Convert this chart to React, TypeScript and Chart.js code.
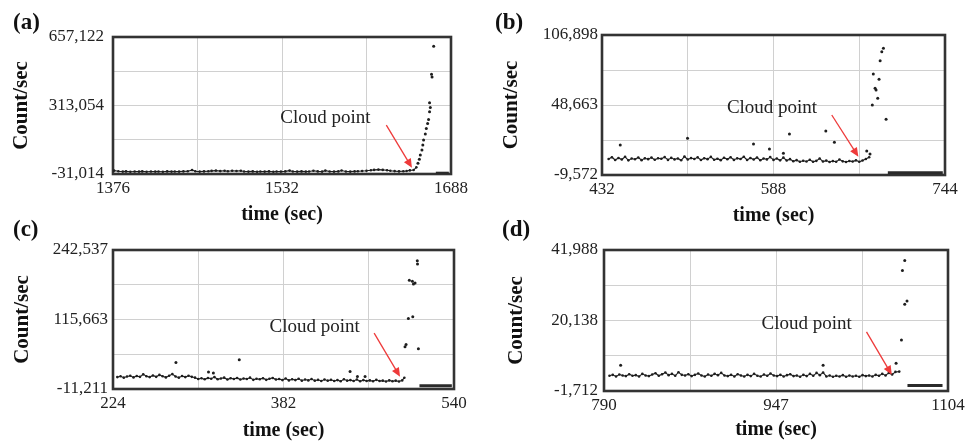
import React, { useEffect, useRef } from "react";
import { Chart, registerables } from "chart.js";

Chart.register(...registerables);

const W = 973;
const H = 444;

// ---------- Panel (a) ----------
const baseTimeA = [
  1377, 1381, 1385, 1388, 1392, 1396, 1400, 1403, 1407, 1411, 1415, 1418, 1422, 1426, 1430, 1433, 1437, 1441, 1445, 1449,
  1452, 1456, 1460, 1464, 1467, 1471, 1475, 1479, 1482, 1486, 1490, 1494, 1497, 1501, 1505, 1509, 1512, 1516, 1520, 1524,
  1527, 1531, 1535, 1539, 1542, 1546, 1550, 1554, 1557, 1561, 1565, 1569, 1572, 1576, 1580, 1584, 1587, 1591, 1595, 1599,
  1602, 1606, 1610, 1614, 1617, 1621, 1625, 1629, 1632, 1636, 1640, 1644, 1647, 1650, 1653.5, 1656,
];
const baseCountA = [
  -14000, -17500, -19000, -18000, -19500, -18500, -19000, -18000, -19500, -18500, -19000, -18500, -19500, -18000, -19000, -18500, -19000, -18000, -17000, -11500,
  -17500, -19000, -18000, -17000, -15500, -14000, -16500, -15000, -17500, -14500, -16000, -15000, -18500, -19000, -18000, -19500, -18500, -19000, -18000, -19500,
  -18500, -19000, -18000, -14000, -18500, -19000, -18000, -19000, -18500, -14500, -18000, -19000, -14000, -18500, -19000, -18000, -13500, -18500, -19000, -18000,
  -17500, -16000, -14500, -12500, -10500, -9000, -10500, -12500, -14500, -16500, -18000, -17500, -16000, -13000, -11000, 2500,
];
const spikeTimeA = [1657.5, 1658.8, 1659.7, 1661.2, 1662, 1662.7, 1664.3, 1665.2, 1666.4, 1667.3, 1668.2, 1668.9, 1668.2, 1670, 1670.5, 1672];
const spikeCountA = [22500, 42600, 64200, 89200, 114300, 139400, 169500, 198000, 223000, 243100, 281200, 303000, 326300, 470000, 456600, 610500];
const tailTimeA = [1674, 1686];
const tailCountA = [-27000, -27000];
const xTicksA = [1376, 1454, 1532, 1610, 1688];
const xLabelsA = ["1376", "", "1532", "", "1688"];
const yTicksA = [-31014, 141020, 313054, 485088, 657122];
const yLabelsA = ["-31,014", "", "313,054", "", "657,122"];

// ---------- Panel (b) ----------
const baseTimeB = [
  438, 441, 444, 447, 450, 453, 456, 459, 462, 465, 468, 471, 474, 477, 480, 483, 486, 489, 492, 495,
  498, 501, 504, 507, 510, 513, 516, 519, 522, 525, 528, 531, 534, 537, 540, 543, 546, 549, 552, 555,
  558, 561, 564, 567, 570, 573, 576, 579, 582, 585, 588, 591, 594, 597, 600, 603, 606, 609, 612, 615,
  618, 621, 624, 627, 630, 633, 636, 639, 642, 645, 648, 651, 654, 657, 660, 663, 666, 669, 672, 675,
];
const baseCountB = [
  3800, 5200, 2900, 4600, 3300, 5600, 2600, 4100, 3500, 5000, 2800, 4300, 3600, 4900, 3100, 4400, 3900, 5300, 3000, 4700,
  3400, 4200, 2700, 5800, 3300, 4500, 3800, 5100, 2900, 4400, 3600, 5500, 3100, 4000, 2800, 4800, 3500, 5200, 3000, 4300,
  3700, 5600, 2900, 4600, 3300, 5000, 2700, 4100, 3400, 5300, 3000, 4200, 2600, 4900, 2500, 3600, 1900, 2800, 1500, 2300,
  1700, 3100, 1400, 2200, 4200, 1600, 2400, 1300, 2000, 1500, 3300, 1800, 1200, 2100, 1600, 2600, 1400, 2500, 3800, 5200,
];
const spikeTimeB = [448.6, 509.8, 569.8, 584.3, 602.5, 635.6, 643.4, 597, 672.8, 675.8, 677.9, 678.8, 680.4, 681.3, 682.8, 684, 685, 686.5, 688, 690.4];
const spikeCountB = [15400, 21000, 16200, 12100, 24500, 27000, 17600, 8500, 10400, 7900, 48700, 74500, 62600, 61200, 54200, 70100, 85500, 93000, 95800, 36800];
const tailTimeB = [692, 742];
const tailCountB = [-7700, -7700];
const xTicksB = [432, 510, 588, 666, 744];
const xLabelsB = ["432", "", "588", "", "744"];
const yTicksB = [-9572, 19545.5, 48663, 77780.5, 106898];
const yLabelsB = ["-9,572", "", "48,663", "", "106,898"];

// ---------- Panel (c) ----------
const baseTimeC = [
  228, 231, 234, 237, 240, 243, 246, 249, 252, 255, 258, 261, 264, 267, 270, 273, 276, 279, 282, 285,
  288, 291, 294, 297, 300, 303, 306, 309, 312, 315, 318, 321, 324, 327, 330, 333, 336, 339, 342, 345,
  348, 351, 354, 357, 360, 363, 366, 369, 372, 375, 378, 381, 384, 387, 390, 393, 396, 399, 402, 405,
  408, 411, 414, 417, 420, 423, 426, 429, 432, 435, 438, 441, 444, 447, 450, 453, 456, 459, 462, 465,
  468, 471, 474, 477, 480, 483, 486, 489, 492, 494,
];
const baseCountC = [
  10500, 12000, 9500, 11500, 13000, 10000, 12500, 11000, 15500, 12000, 10500, 13500, 11000, 14500, 12000, 10000, 13000, 16000, 11500, 9500,
  12500, 10500, 13000, 11000, 9500, 7000, 8500, 6500, 9000, 7500, 10500, 6500, 8000, 9500, 6000, 8500, 7000, 9000, 6000, 8000,
  7000, 9500, 5500, 7500, 6500, 8500, 5500, 7500, 9000, 6000, 7000, 5000, 8000, 4500, 6500, 5000, 7500, 4000, 6000, 4500,
  7000, 4000, 5500, 3500, 6000, 4000, 5500, 3500, 5000, 3000, 6500, 4000, 5000, 3500, 6000, 3000, 5000, 3500, 4500, 3000,
  5500, 3500, 4000, 2500, 4500, 3000, 4000, 2500, 4500, 9400,
];
const spikeTimeC = [282.3, 341, 312.5, 317, 443.7, 450.5, 457.6, 494.6, 495.6, 497.7, 501.8, 498.6, 501.4, 503.9, 502.4, 506, 506.2, 507];
const spikeCountC = [37200, 42200, 19800, 17900, 20900, 11700, 11700, 65800, 70000, 117400, 120500, 187300, 185500, 182400, 180600, 223000, 217000, 62200];
const tailTimeC = [508, 538];
const tailCountC = [-5500, -5500];
const xTicksC = [224, 303, 382, 461, 540];
const xLabelsC = ["224", "", "382", "", "540"];
const yTicksC = [-11211, 52226, 115663, 179100, 242537];
const yLabelsC = ["-11,211", "", "115,663", "", "242,537"];

// ---------- Panel (d) ----------
const baseTimeD = [
  795, 798, 801, 804, 807, 810, 813, 816, 819, 822, 825, 828, 831, 834, 837, 840, 843, 846, 849, 852,
  855, 858, 861, 864, 867, 870, 873, 876, 879, 882, 885, 888, 891, 894, 897, 900, 903, 906, 909, 912,
  915, 918, 921, 924, 927, 930, 933, 936, 939, 942, 945, 948, 951, 954, 957, 960, 963, 966, 969, 972,
  975, 978, 981, 984, 987, 990, 993, 996, 999, 1002, 1005, 1008, 1011, 1014, 1017, 1020, 1023, 1026, 1029, 1032,
  1035, 1038, 1041, 1044, 1047, 1050, 1053, 1056, 1059.5,
];
const baseCountD = [
  3000, 3300, 2800, 3400, 3100, 2900, 3500, 3000, 3200, 2800, 3600, 3100, 2900, 3400, 3800, 3000, 3500, 4000, 3200, 3600,
  3000, 4100, 3300, 3100, 3500, 2900, 3300, 3700, 3100, 2800, 3400, 3000, 3600, 3200, 3900, 3100, 2900, 3300, 2800, 3500,
  3100, 2800, 3300, 2900, 3600, 3000, 2800, 3400, 3000, 3700, 3100, 2900, 3300, 2800, 3200, 3500, 2900, 3100, 2700, 3300,
  2900, 3600, 3000, 3900, 3200, 4000, 2800, 3100, 2700, 3000, 2800, 3200, 2700, 3100, 2800, 3000, 2700, 3200, 2900, 3100,
  2800, 3300, 3000, 3600, 3100, 3900, 3400, 4200, 4300,
];
const spikeTimeD = [805.2, 990, 1056.6, 1061.5, 1064.5, 1066.6, 1062.4, 1064.5];
const spikeCountD = [6300, 6300, 6900, 14100, 25200, 26200, 35600, 38700];
const tailTimeD = [1067, 1099];
const tailCountD = [0, 0];
const xTicksD = [790, 868.5, 947, 1025.5, 1104];
const xLabelsD = ["790", "", "947", "", "1104"];
const yTicksD = [-1712, 9213, 20138, 31063, 41988];
const yLabelsD = ["-1,712", "", "20,138", "", "41,988"];

const panelLetters = ["(a)", "(b)", "(c)", "(d)"];
const noteText = "Cloud point";
const xTitle = "time (sec)";
const yTitle = "Count/sec";

type Panel = {
  baseT: number[];
  baseC: number[];
  spikeT: number[];
  spikeC: number[];
  tailT: number[];
  tailC: number[];
  xTicks: number[];
  xLabels: string[];
  yTicks: number[];
  yLabels: string[];
  letter: string;
  area: { left: number; top: number; right: number; bottom: number };
  padL: number;
  xBottom: number;
  yTitlePad: number;
  yTickPad: number;
  letterPos: [number, number];
  note: [number, number];
  arrowFrom: [number, number];
  arrowTo: [number, number];
};

const panels: Panel[] = [
  {
    baseT: baseTimeA, baseC: baseCountA, spikeT: spikeTimeA, spikeC: spikeCountA, tailT: tailTimeA, tailC: tailCountA,
    xTicks: xTicksA, xLabels: xLabelsA, yTicks: yTicksA, yLabels: yLabelsA,
    letter: panelLetters[0],
    area: { left: 113, top: 37, right: 451, bottom: 174 }, padL: 0, xBottom: 227, yTitlePad: 9.4, yTickPad: 9,
    letterPos: [13, 28.5], note: [1530.4, 249650], arrowFrom: [1628.3, 214570], arrowTo: [1652, 0],
  },
  {
    baseT: baseTimeB, baseC: baseCountB, spikeT: spikeTimeB, spikeC: spikeCountB, tailT: tailTimeB, tailC: tailCountB,
    xTicks: xTicksB, xLabels: xLabelsB, yTicks: yTicksB, yLabels: yLabelsB,
    letter: panelLetters[1],
    area: { left: 602, top: 35, right: 945, bottom: 175 }, padL: 480, xBottom: 228, yTitlePad: 19.4, yTickPad: 4,
    letterPos: [495, 28.5], note: [545.6, 46172], arrowFrom: [641, 40348], arrowTo: [665.2, 5654],
  },
  {
    baseT: baseTimeC, baseC: baseCountC, spikeT: spikeTimeC, spikeC: spikeCountC, tailT: tailTimeC, tailC: tailCountC,
    xTicks: xTicksC, xLabels: xLabelsC, yTicks: yTicksC, yLabels: yLabelsC,
    letter: panelLetters[2],
    area: { left: 113, top: 250, right: 454, bottom: 389 }, padL: 0, xBottom: 443, yTitlePad: 10.4, yTickPad: 5,
    letterPos: [13, 236], note: [369, 102270], arrowFrom: [466, 90800], arrowTo: [490, 11195],
  },
  {
    baseT: baseTimeD, baseC: baseCountD, spikeT: spikeTimeD, spikeC: spikeCountD, tailT: tailTimeD, tailC: tailCountD,
    xTicks: xTicksD, xLabels: xLabelsD, yTicks: yTicksD, yLabels: yLabelsD,
    letter: panelLetters[3],
    area: { left: 604, top: 250, right: 948, bottom: 391 }, padL: 480, xBottom: 442, yTitlePad: 24.4, yTickPad: 6,
    letterPos: [502, 236], note: [933.8, 19160], arrowFrom: [1029.6, 16614], arrowTo: [1052.7, 3320],
  },
];

const SERIF = '"Liberation Serif", "Times New Roman", serif';
const INK = "#1e1e1e";

const decorPlugin = {
  id: "panelDecor",
  beforeDatasetsDraw(chart: any) {
    const { ctx, chartArea } = chart;
    const { left, top, right, bottom } = chartArea;
    ctx.save();
    ctx.strokeStyle = "#333333";
    ctx.lineWidth = 2.6;
    ctx.strokeRect(left, top, right - left, bottom - top);
    ctx.restore();
  },
  afterDatasetsDraw(chart: any, _args: any, opts: any) {
    const p: Panel = opts.panel;
    if (!p) return;
    const ctx = chart.ctx;
    const xs = chart.scales.x;
    const ys = chart.scales.y;
    ctx.save();
    ctx.fillStyle = "#111";
    ctx.font = `bold 23px ${SERIF}`;
    ctx.textBaseline = "alphabetic";
    ctx.textAlign = "left";
    ctx.fillText(p.letter, p.letterPos[0], p.letterPos[1]);
    ctx.font = `19px ${SERIF}`;
    ctx.fillStyle = "#222";
    ctx.textBaseline = "middle";
    ctx.fillText(noteText, xs.getPixelForValue(p.note[0]), ys.getPixelForValue(p.note[1]));
    const x1 = xs.getPixelForValue(p.arrowFrom[0]);
    const y1 = ys.getPixelForValue(p.arrowFrom[1]);
    const x2 = xs.getPixelForValue(p.arrowTo[0]);
    const y2 = ys.getPixelForValue(p.arrowTo[1]);
    const ang = Math.atan2(y2 - y1, x2 - x1);
    const hl = 9;
    const hw = 4;
    const c = Math.cos(ang);
    const s = Math.sin(ang);
    ctx.strokeStyle = "#ee3a3a";
    ctx.fillStyle = "#ee3a3a";
    ctx.lineWidth = 1.3;
    ctx.beginPath();
    ctx.moveTo(x1, y1);
    ctx.lineTo(x2 - hl * 0.7 * c, y2 - hl * 0.7 * s);
    ctx.stroke();
    ctx.beginPath();
    ctx.moveTo(x2, y2);
    ctx.lineTo(x2 - hl * c + hw * s, y2 - hl * s - hw * c);
    ctx.lineTo(x2 - hl * c - hw * s, y2 - hl * s + hw * c);
    ctx.closePath();
    ctx.fill();
    ctx.restore();
  },
};

const toPts = (ts: number[], cs: number[]) => ts.map((t, i) => ({ x: t, y: cs[i] }));

function makeChart(canvas: HTMLCanvasElement, p: Panel) {
  return new Chart(canvas, {
    type: "scatter",
    data: {
      datasets: [
        {
          data: toPts(p.baseT, p.baseC),
          showLine: true,
          borderColor: INK,
          borderWidth: 1.1,
          pointRadius: 1.3,
          pointBackgroundColor: INK,
          pointBorderWidth: 0,
        },
        {
          data: toPts(p.spikeT, p.spikeC),
          showLine: false,
          pointRadius: 1.5,
          pointBackgroundColor: INK,
          pointBorderWidth: 0,
        },
        {
          data: toPts(p.tailT, p.tailC),
          showLine: true,
          borderColor: "#2a2a2a",
          borderWidth: 3,
          pointRadius: 0,
        },
      ],
    },
    options: {
      animation: false,
      responsive: false,
      devicePixelRatio: 1,
      events: [],
      layout: {
        padding: { left: p.padL, top: p.area.top, right: W - p.area.right, bottom: H - p.xBottom },
      },
      plugins: {
        legend: { display: false },
        tooltip: { enabled: false },
        panelDecor: { panel: p },
      } as any,
      scales: {
        x: {
          type: "linear",
          position: "bottom",
          min: p.xTicks[0],
          max: p.xTicks[p.xTicks.length - 1],
          afterBuildTicks: (s: any) => {
            s.ticks = p.xTicks.map((v) => ({ value: v }));
          },
          afterFit: (s: any) => {
            s.height = p.xBottom - p.area.bottom;
            s.paddingLeft = 0;
            s.paddingRight = 0;
          },
          grid: { color: "#d0d0d0", lineWidth: 1, drawTicks: false },
          border: { display: false },
          ticks: {
            padding: 4,
            color: "#222",
            autoSkip: false,
            maxRotation: 0,
            font: { family: SERIF, size: 17 },
            callback: (_v: any, i: number) => p.xLabels[i],
          },
          title: {
            display: true,
            text: xTitle,
            color: "#111",
            padding: { top: 0, bottom: 0 },
            font: { family: SERIF, size: 20, weight: "bold" },
          },
        },
        y: {
          type: "linear",
          position: "left",
          min: p.yTicks[0],
          max: p.yTicks[p.yTicks.length - 1],
          afterBuildTicks: (s: any) => {
            s.ticks = p.yTicks.map((v) => ({ value: v }));
          },
          afterFit: (s: any) => {
            s.width = p.area.left - p.padL;
            s.paddingTop = 0;
            s.paddingBottom = 0;
          },
          grid: { color: "#d0d0d0", lineWidth: 1, drawTicks: false },
          border: { display: false },
          ticks: {
            padding: p.yTickPad,
            color: "#222",
            autoSkip: false,
            font: { family: SERIF, size: 17 },
            callback: (_v: any, i: number) => p.yLabels[i],
          },
          title: {
            display: true,
            text: yTitle,
            color: "#111",
            padding: { top: p.yTitlePad, bottom: 0 },
            font: { family: SERIF, size: 21, weight: "bold" },
          },
        },
      },
    } as any,
    plugins: [decorPlugin as any],
  });
}

function PanelCanvas({ panel }: { panel: Panel }) {
  const ref = useRef<HTMLCanvasElement | null>(null);
  useEffect(() => {
    if (!ref.current) return;
    const chart = makeChart(ref.current, panel);
    return () => chart.destroy();
  }, [panel]);
  return (
    <canvas
      ref={ref}
      width={W}
      height={H}
      style={{ position: "absolute", left: 0, top: 0, width: W, height: H }}
    />
  );
}

export default function App() {
  return (
    <div
      style={{
        position: "fixed",
        left: 0,
        top: 0,
        width: W,
        height: H,
        background: "#ffffff",
        overflow: "hidden",
      }}
    >
      {panels.map((p) => (
        <PanelCanvas key={p.letter} panel={p} />
      ))}
    </div>
  );
}
